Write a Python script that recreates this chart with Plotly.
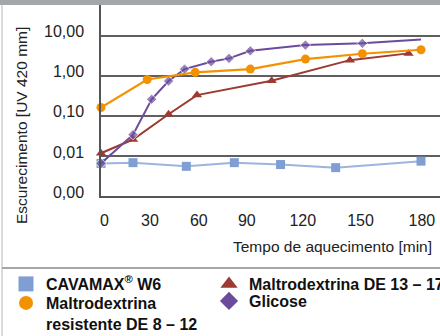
import plotly.graph_objects as go

# ---- data ----
cav_t = [0, 18, 48, 75, 101, 132, 180]
cav_v = [0.0065, 0.0068, 0.0055, 0.0068, 0.0061, 0.0051, 0.0074]

res_t = [0, 26, 53, 84, 115, 147, 180]
res_v = [0.162, 0.81, 1.22, 1.47, 2.61, 3.55, 4.47]

de_t = [0, 18, 38, 54, 96, 140, 173]
de_v = [0.0117, 0.0257, 0.110, 0.33, 0.75, 2.46, 3.63]

gli_t = [0, 18, 28.5, 38, 47, 62, 72, 84, 115, 147, 180]
gli_v = [0.0065, 0.034, 0.26, 0.74, 1.47, 2.24, 2.72, 4.2, 5.85, 6.46, 8.1]

x_tick_text = ["0", "30", "60", "90", "120", "150", "180"]
x_tick_pos = [2, 27.5, 55, 82, 113.5, 146, 180.5]
y_tick_vals = [0.001, 0.01, 0.1, 1, 10]
y_tick_text = ["0,00", "0,01", "0,10", "1,00", "10,00"]

names = ["CAVAMAX<sup>®</sup> W6", "Maltrodextrina<br>resistente DE 8 – 12",
         "Maltrodextrina DE 13 – 17", "Glicose"]
colors = ["#7f9fd4", "#f39200", "#9d3a32", "#6b4c9c"]

# ---- layout geometry (pixels) ----
W, H = 440, 336
L, R, T, B = 101, 440, 5, 196
FONT = "Liberation Sans, Arial, sans-serif"


def pxx(x):
    return (x - L) / (R - L)


def pxy(y):
    return (B - y) / (B - T)


fig = go.Figure()

fig.add_trace(go.Scatter(x=cav_t, y=cav_v, mode="lines+markers", showlegend=False,
                         line=dict(color="#9cb4de", width=2),
                         marker=dict(symbol="square", size=9, color=colors[0]),
                         cliponaxis=False))
fig.add_trace(go.Scatter(x=de_t, y=de_v, mode="lines+markers", showlegend=False,
                         line=dict(color=colors[2], width=2),
                         marker=dict(symbol="triangle-up", size=9, color=colors[2]),
                         cliponaxis=False))
fig.add_trace(go.Scatter(x=gli_t, y=gli_v, mode="lines+markers", showlegend=False,
                         line=dict(color=colors[3], width=2),
                         marker=dict(symbol="diamond", size=[8] * (len(gli_t) - 1) + [0],
                                     color=colors[3]),
                         cliponaxis=False))
fig.add_trace(go.Scatter(x=res_t, y=res_v, mode="lines+markers", showlegend=False,
                         line=dict(color=colors[1], width=2.2),
                         marker=dict(symbol="circle", size=9, color=colors[1]),
                         cliponaxis=False))

# legend-only entries, one small legend per entry
leg_syms = ["square", "circle", "triangle-up", "diamond"]
leg_sizes = [15, 14, 15, 14]
leg_ids = ["legend", "legend2", "legend3", "legend4"]
leg_xy = [(6, 267), (6, 286), (209, 267), (209, 284)]
for n, c, s, sz, lg in zip(names, colors, leg_syms, leg_sizes, leg_ids):
    fig.add_trace(go.Scatter(x=[None], y=[None], mode="markers", name="<b>" + n + "</b>",
                             marker=dict(symbol=s, size=sz, color=c), legend=lg))

legend_common = dict(orientation="v", xref="container", yref="container",
                     xanchor="left", yanchor="top", bgcolor="rgba(0,0,0,0)",
                     font=dict(family=FONT, size=16, color="#111"),
                     tracegroupgap=0, itemclick=False, itemdoubleclick=False,
                     valign="top", traceorder="normal")
legends = {lg: dict(x=px / W, y=1 - py / H, **legend_common)
           for lg, (px, py) in zip(leg_ids, leg_xy)}

fig.update_layout(
    width=W, height=H,
    margin=dict(l=L, r=W - R, t=T, b=H - B, pad=0, autoexpand=False),
    paper_bgcolor="white", plot_bgcolor="white",
    font=dict(family=FONT, size=15, color="#222"),
    **legends,
    xaxis=dict(range=[0, (R - L) / 1.7778], tickvals=x_tick_pos, ticktext=x_tick_text,
               showgrid=False, zeroline=False, showline=True, linecolor="#555",
               linewidth=1.5, ticks="", ticklabelstandoff=9, automargin=False,
               tickfont=dict(family=FONT, size=16, color="#222")),
    yaxis=dict(type="log", range=[-3, 1.7675], tickvals=y_tick_vals, ticktext=y_tick_text,
               showgrid=True, gridcolor="#5f5f5f", gridwidth=1.5, zeroline=False,
               showline=True, linecolor="#555", linewidth=1.5, ticks="",
               ticklabelstandoff=12, ticklabelshift=-4, automargin=False,
               tickfont=dict(family=FONT, size=16, color="#222")),
    annotations=[
        dict(text="Escurecimento [UV 420 mm]", xref="paper", yref="paper",
             x=pxx(22), y=pxy(126), textangle=-90, showarrow=False,
             xanchor="center", yanchor="middle",
             font=dict(family=FONT, size=15.5, color="#222")),
        dict(text="Tempo de aquecimento [min]", xref="paper", yref="paper",
             x=pxx(434), y=pxy(246), showarrow=False,
             xanchor="right", yanchor="middle",
             font=dict(family=FONT, size=15.5, color="#222")),
    ],
    shapes=[
        dict(type="rect", xref="paper", yref="paper", x0=pxx(0), x1=pxx(W),
             y0=pxy(5), y1=pxy(0), fillcolor="#a3a7aa", line=dict(width=0), layer="above"),
        dict(type="line", xref="paper", yref="paper", x0=pxx(2), x1=pxx(2),
             y0=pxy(5), y1=pxy(H), line=dict(color="#cfcfcf", width=1.5)),
        dict(type="line", xref="paper", yref="paper", x0=pxx(2), x1=pxx(W),
             y0=pxy(268), y1=pxy(268), line=dict(color="#a3a7aa", width=2)),
    ],
)

fig.write_html("out.html")
